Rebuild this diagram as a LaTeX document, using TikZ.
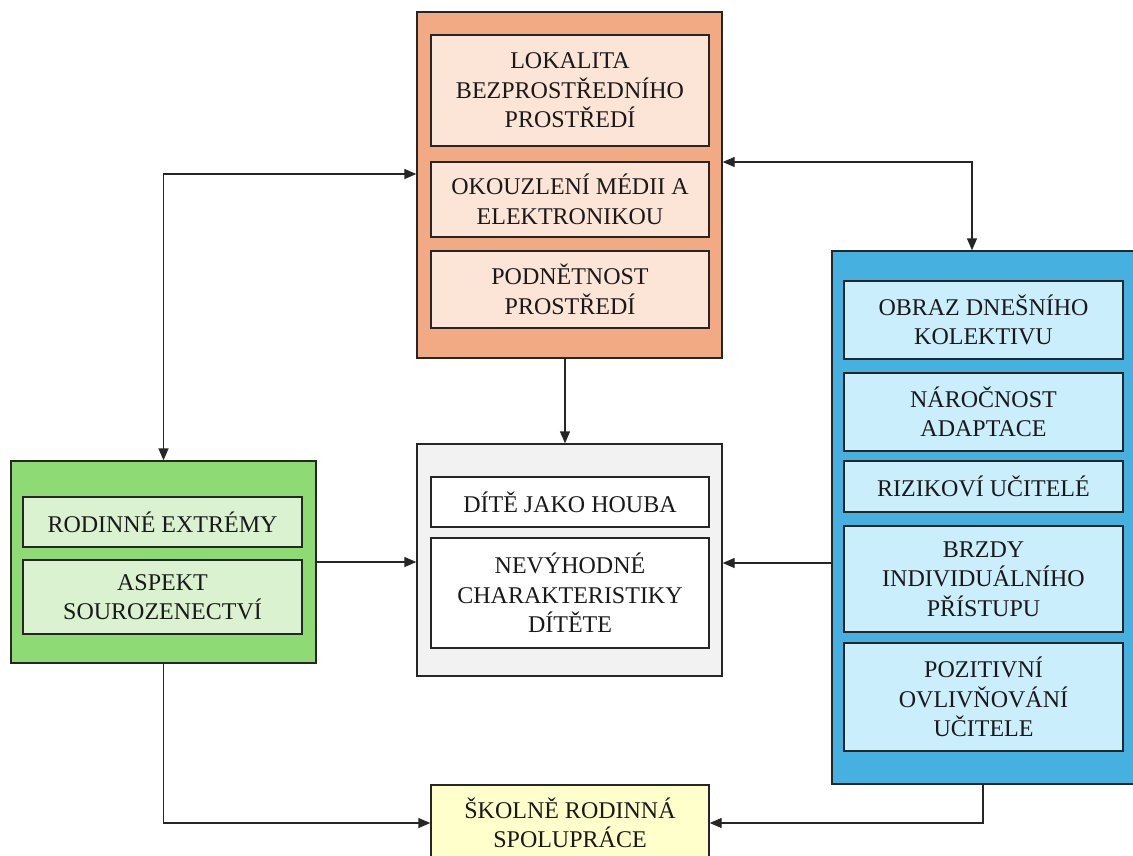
\documentclass[tikz,border=0pt]{standalone}
\usepackage{fontspec}
\setmainfont{Liberation Serif}
\newfontfamily\tnr{Liberation Serif}
\usetikzlibrary{arrows.meta}
\definecolor{orangeout}{RGB}{242,170,132}
\definecolor{orangein}{RGB}{252,228,214}
\definecolor{greenout}{RGB}{142,218,116}
\definecolor{greenin}{RGB}{218,242,208}
\definecolor{grayout}{RGB}{242,242,242}
\definecolor{blueout}{RGB}{70,176,225}
\definecolor{bluein}{RGB}{202,238,251}
\definecolor{yellowin}{RGB}{255,255,204}
\definecolor{edge}{RGB}{38,38,38}
\tikzset{
  box/.style={draw=edge, line width=1.4pt, inner sep=0pt, align=center,
    font=\tnr\fontsize{24}{29.5}\selectfont, text=black!90},
  outer/.style={box},
  conn/.style={draw=edge, line width=1.4pt},
  arr/.style={conn, -{Triangle[length=12pt,width=10pt]}},
  darr/.style={conn, {Triangle[length=12pt,width=10pt]}-{Triangle[length=12pt,width=10pt]}}
}
\begin{document}
\begin{tikzpicture}[x=1pt,y=-1pt]
\clip (0,0) rectangle (1133,855);
\fill[white] (0,0) rectangle (1133,855);
% orange group
\node[outer, fill=orangeout, minimum width=305pt, minimum height=346pt] (O) at (569.5,185) {};
\node[box, fill=orangein, minimum width=278pt, minimum height=111pt] (o1) at (570,90.5) {LOKALITA\\BEZPROSTŘEDNÍHO\\PROSTŘEDÍ};
\node[box, fill=orangein, minimum width=278pt, minimum height=75pt] (o2) at (570,199.5) {OKOUZLENÍ MÉDII A\\ELEKTRONIKOU};
\node[box, fill=orangein, minimum width=278pt, minimum height=77pt] (o3) at (570,289.5) {PODNĚTNOST\\PROSTŘEDÍ};
% green group
\node[outer, fill=greenout, minimum width=305pt, minimum height=202pt] (G) at (163.5,562) {};
\node[box, fill=greenin, minimum width=279pt, minimum height=50pt] (g1) at (162.5,522) {RODINNÉ EXTRÉMY};
\node[box, fill=greenin, minimum width=279pt, minimum height=74pt] (g2) at (162.5,597) {ASPEKT\\SOUROZENECTVÍ};
% gray group
\node[outer, fill=grayout, minimum width=305pt, minimum height=232pt] (C) at (569.5,560) {};
\node[box, fill=white, minimum width=278pt, minimum height=50pt] (c1) at (570,502) {DÍTĚ JAKO HOUBA};
\node[box, fill=white, minimum width=278pt, minimum height=110pt] (c2) at (570,593) {NEVÝHODNÉ\\CHARAKTERISTIKY\\DÍTĚTE};
% blue group
\node[outer, fill=blueout, minimum width=313pt, minimum height=533pt] (B) at (988.5,517.5) {};
\node[box, fill=bluein, minimum width=279pt, minimum height=78pt] (b1) at (983.5,320) {OBRAZ DNEŠNÍHO\\KOLEKTIVU};
\node[box, fill=bluein, minimum width=279pt, minimum height=78pt] (b2) at (983.5,412) {NÁROČNOST\\ADAPTACE};
\node[box, fill=bluein, minimum width=279pt, minimum height=51pt] (b3) at (983.5,486.5) {RIZIKOVÍ UČITELÉ};
\node[box, fill=bluein, minimum width=279pt, minimum height=106pt] (b4) at (983.5,579) {BRZDY\\INDIVIDUÁLNÍHO\\PŘÍSTUPU};
\node[box, fill=bluein, minimum width=279pt, minimum height=108pt] (b5) at (983.5,697) {POZITIVNÍ\\OVLIVŇOVÁNÍ\\UČITELE};
% yellow
\node[box, fill=yellowin, minimum width=278pt, minimum height=76pt] (Y) at (570,823) {ŠKOLNĚ RODINNÁ\\SPOLUPRÁCE};
% connectors
\draw[darr] (G.north) |- ([yshift=11pt]O.west);
\draw[darr] ([yshift=23pt]O.east) -| ([xshift=-16.5pt]B.north);
\draw[arr] ([xshift=-4.5pt]O.south) -- ([xshift=-4.5pt]C.north);
\draw[arr] (G.east) -- (G.east -| C.west);
\draw[arr] ([yshift=-3pt]C.east -| B.west) -- ([yshift=-3pt]C.east);
\draw[arr] (G.south) |- (Y.west);
\draw[arr] ([xshift=-5.5pt]B.south) |- (Y.east);
\end{tikzpicture}
\end{document}
